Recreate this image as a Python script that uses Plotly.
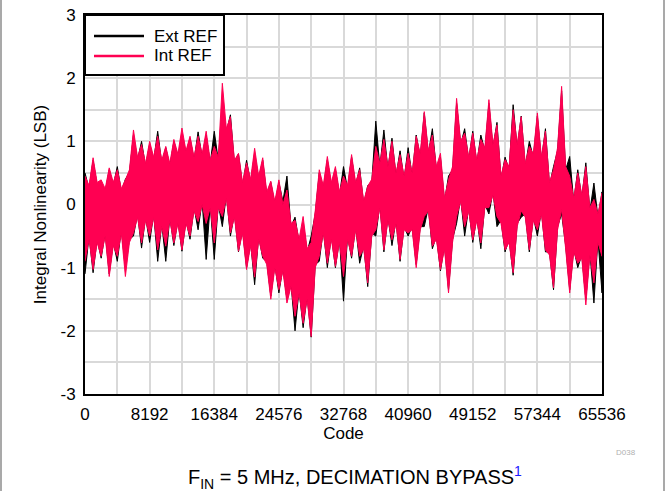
import plotly.graph_objects as go

# ---- data ----
code_step = 512
codes = list(range(0, 65537, code_step))

ext_hi = [0.50, 0.25, 0.70, 0.30, 0.30, 0.20, 0.55, 0.30,
          0.60, 0.20, 0.40, 0.50, 1.10, 0.70, 1.00, 0.60,
          0.95, 0.70, 1.16, 0.65, 0.90, 0.60, 1.00, 0.75,
          1.10, 0.80, 1.05, 0.70, 1.15, 0.75, 1.10, 0.65,
          1.16, 0.70, 1.60, 1.15, 1.42, 0.65, 0.80, 0.30,
          0.70, 0.35, 0.80, 0.40, 0.70, 0.15, 0.35, 0.00,
          0.35, 0.05, 0.45, -0.35, -0.20, -0.60, -0.30, -0.75,
          -0.50, -0.15, 0.50, 0.25, 0.70, 0.30, 0.55, 0.15,
          0.60, 0.25, 0.75, 0.30, 0.58, 0.00, 0.30, 0.35,
          1.32, 0.60, 1.18, 0.55, 1.05, 0.45, 0.85, 0.40,
          0.90, 0.45, 1.10, 0.75, 1.45, 0.80, 1.20, 0.55,
          0.75, 0.05, 0.45, 0.55, 1.60, 0.95, 1.20, 0.70,
          1.16, 0.65, 1.10, 0.85, 1.60, 0.90, 1.30, 0.40,
          0.75, 0.55, 1.58, 0.90, 1.40, 0.60, 1.00, 0.75,
          1.40, 0.70, 1.20, 0.30, 0.60, 0.85, 1.80, 0.55,
          0.76, 0.05, 0.55, 0.10, 0.66, -0.10, 0.34, -0.20,
          0.20]
ext_lo = [-1.10, -0.50, -1.08, -0.55, -0.85, -0.45, -1.10, -0.60,
          -0.90, -0.40, -1.00, -0.55, -0.50, -0.15, -0.69, -0.20,
          -0.60, -0.15, -0.90, -0.30, -0.90, -0.20, -0.65, -0.25,
          -0.74, -0.25, -0.55, -0.05, -0.40, 0.05, -0.87, 0.00,
          -0.87, 0.00, -0.35, 0.15, -0.50, -0.15, -0.75, -0.40,
          -1.00, -0.60, -1.27, -0.50, -0.85, -0.90, -1.45, -0.95,
          -1.40, -1.00, -1.50, -1.25, -2.00, -1.35, -1.95, -1.45,
          -2.10, -0.95, -0.90, -0.40, -1.00, -0.50, -1.00, -0.55,
          -1.53, -0.50, -0.85, -0.35, -0.93, -0.65, -1.30, -0.45,
          -0.50, 0.00, -0.75, -0.20, -0.65, -0.25, -0.90, -0.35,
          -0.50, -0.35, -0.95, -0.35, -0.35, -0.05, -0.70, -0.50,
          -1.05, -0.65, -1.35, -0.55, -0.30, 0.10, -0.50, -0.05,
          -0.60, -0.20, -0.70, 0.00, -0.15, 0.20, -0.35, -0.25,
          -0.75, -0.55, -1.12, -0.30, -0.20, -0.15, -0.75, -0.20,
          -0.50, -0.10, -0.75, -0.75, -1.35, -0.35, -0.15, -0.65,
          -1.35, -0.70, -1.00, -0.80, -1.50, -0.75, -1.56, -0.55,
          -1.40]
int_hi = [0.45, 0.30, 0.74, 0.35, 0.39, 0.25, 0.58, 0.35,
          0.55, 0.25, 0.39, 0.55, 1.18, 0.75, 0.95, 0.65,
          1.00, 0.75, 1.08, 0.70, 0.92, 0.65, 1.03, 0.80,
          1.21, 0.85, 1.08, 0.75, 1.08, 0.80, 1.16, 0.70,
          0.92, 0.75, 1.92, 1.20, 1.39, 0.70, 0.81, 0.35,
          0.66, 0.40, 0.89, 0.45, 0.74, 0.20, 0.37, 0.05,
          0.39, 0.00, 0.23, -0.30, -0.25, -0.55, -0.19, -0.70,
          -0.60, -0.10, 0.55, 0.30, 0.76, 0.35, 0.60, 0.20,
          0.45, 0.30, 0.79, 0.35, 0.55, 0.05, 0.29, 0.40,
          0.92, 0.65, 1.03, 0.60, 1.00, 0.50, 0.79, 0.45,
          0.81, 0.50, 1.08, 0.80, 1.47, 0.85, 1.10, 0.60,
          0.81, 0.10, 0.39, 0.60, 1.68, 1.00, 1.13, 0.75,
          1.13, 0.70, 1.03, 0.90, 1.66, 0.95, 1.26, 0.45,
          0.71, 0.60, 1.50, 0.95, 1.39, 0.65, 0.92, 0.80,
          1.45, 0.75, 1.16, 0.35, 0.55, 0.90, 1.87, 0.60,
          0.45, 0.10, 0.50, 0.15, 0.60, -0.05, 0.08, -0.15,
          0.18]
int_lo = [-0.90, -0.55, -1.03, -0.60, -0.82, -0.50, -1.14, -0.65,
          -0.82, -0.45, -1.14, -0.60, -0.45, -0.20, -0.61, -0.25,
          -0.50, -0.20, -0.72, -0.35, -0.66, -0.25, -0.61, -0.30,
          -0.72, -0.30, -0.50, -0.10, -0.27, 0.00, -0.30, -0.05,
          -0.61, -0.05, -0.19, 0.10, -0.45, -0.20, -0.74, -0.45,
          -1.03, -0.65, -1.15, -0.55, -0.82, -0.95, -1.50, -1.00,
          -1.35, -1.05, -1.56, -1.30, -1.77, -1.40, -1.88, -1.50,
          -2.09, -1.00, -0.82, -0.45, -0.93, -0.55, -0.98, -0.60,
          -1.14, -0.55, -0.82, -0.40, -0.82, -0.70, -1.24, -0.50,
          -0.40, -0.05, -0.72, -0.25, -0.56, -0.30, -0.87, -0.40,
          -0.45, -0.40, -1.00, -0.40, -0.19, -0.10, -0.66, -0.55,
          -1.03, -0.70, -1.40, -0.60, -0.19, 0.05, -0.35, -0.10,
          -0.56, -0.25, -0.61, -0.05, -0.05, 0.15, -0.19, -0.30,
          -0.72, -0.60, -1.08, -0.35, -0.10, -0.20, -0.72, -0.25,
          -0.40, -0.15, -0.72, -0.80, -1.32, -0.40, -0.08, -0.70,
          -1.40, -0.75, -0.93, -0.85, -1.59, -0.80, -1.24, -0.60,
          -0.82]

x_ticks = [0, 8192, 16384, 24576, 32768, 40960, 49152, 57344, 65536]
x_ticklabels = ["0", "8192", "16384", "24576", "32768", "40960", "49152", "57344", "65536"]
y_ticks = [-3, -2, -1, 0, 1, 2, 3]
y_ticklabels = ["-3", "-2", "-1", "0", "1", "2", "3"]
legend_names = ["Ext REF", "Int REF"]
colors = ["#000000", "#ff0052"]

series = [(legend_names[0], ext_hi, ext_lo, colors[0]),
          (legend_names[1], int_hi, int_lo, colors[1])]

FONT = "Liberation Sans, Arial, sans-serif"
W, H = 666, 491
ML, MR, MT, MB = 85, 64, 15, 97
PW, PH = W - ML - MR, H - MT - MB


def px(x):
    return (x - ML) / PW


def py(y):
    return (H - MB - y) / PH


fig = go.Figure()
for name, hi, lo, color in series:
    fig.add_trace(go.Scatter(
        x=codes + codes[::-1], y=hi + lo[::-1], name=name,
        mode="lines", fill="toself", fillcolor=color,
        line=dict(color=color, width=1), showlegend=False, hoverinfo="skip"))

# legend box drawn by hand (matches the reference geometry)
shapes = [
    dict(type="rect", xref="paper", yref="paper", x0=0, x1=px(224), y0=py(75), y1=1,
         fillcolor="white", line=dict(color="black", width=2), layer="above"),
]
annotations = []
for i, (name, color) in enumerate(zip(legend_names, colors)):
    yy = py(36 + 20 * i)
    shapes.append(dict(type="line", xref="paper", yref="paper", x0=px(94), x1=px(144),
                       y0=yy, y1=yy, line=dict(color=color, width=2.5), layer="above"))
    annotations.append(dict(text=name, x=px(152), y=yy, xref="paper", yref="paper",
                            showarrow=False, xanchor="left", yanchor="middle",
                            font=dict(size=17)))

annotations += [
    dict(text="F<sub>IN</sub> = 5 MHz, DECIMATION BYPASS<sup><span style='color:#1a1aff'>1</span></sup>",
         x=px(355), y=py(477), xref="paper", yref="paper", showarrow=False,
         xanchor="center", yanchor="middle", font=dict(size=20)),
    dict(text="D038", x=px(626), y=py(452), xref="paper", yref="paper", showarrow=False,
         xanchor="center", yanchor="middle", font=dict(size=8, color="#b0b0b0")),
]
shapes += [
    dict(type="line", xref="paper", yref="paper", x0=px(1), x1=px(1), y0=py(H + 5), y1=py(-5),
         line=dict(color="#8c8c8c", width=1.5)),
    dict(type="line", xref="paper", yref="paper", x0=px(664), x1=px(664), y0=py(H + 5), y1=py(-5),
         line=dict(color="#8c8c8c", width=1.5)),
]

grid = "#d9d9d9"
fig.update_layout(
    width=W, height=H,
    margin=dict(l=ML, r=MR, t=MT, b=MB, autoexpand=False),
    paper_bgcolor="white", plot_bgcolor="white",
    font=dict(family=FONT, size=17, color="black"),
    showlegend=False,
    xaxis=dict(range=[0, 65536], tickmode="array", tickvals=x_ticks, ticktext=x_ticklabels,
               showgrid=True, gridcolor=grid, gridwidth=1.5, automargin=False,
               minor=dict(dtick=4096, tick0=0, showgrid=True, gridcolor=grid, gridwidth=1.5),
               showline=True, linecolor="black", linewidth=2, mirror=True,
               ticks="", zeroline=False, ticklabelstandoff=4,
               title=dict(text="Code", standoff=4, font=dict(size=17))),
    yaxis=dict(range=[-3, 3], tickmode="array", tickvals=y_ticks, ticktext=y_ticklabels,
               showgrid=True, gridcolor=grid, gridwidth=1.5, automargin=False,
               minor=dict(dtick=0.5, tick0=0, showgrid=True, gridcolor=grid, gridwidth=1.5),
               showline=True, linecolor="black", linewidth=2, mirror=True,
               ticks="", zeroline=False, ticklabelstandoff=4,
               title=dict(text="Integral Nonlinearity (LSB)", standoff=10, font=dict(size=17))),
    annotations=annotations,
    shapes=shapes,
)

fig.write_html("out.html", config={"displayModeBar": False},
               post_script="document.body.style.margin='0';document.body.style.overflow='hidden';")
